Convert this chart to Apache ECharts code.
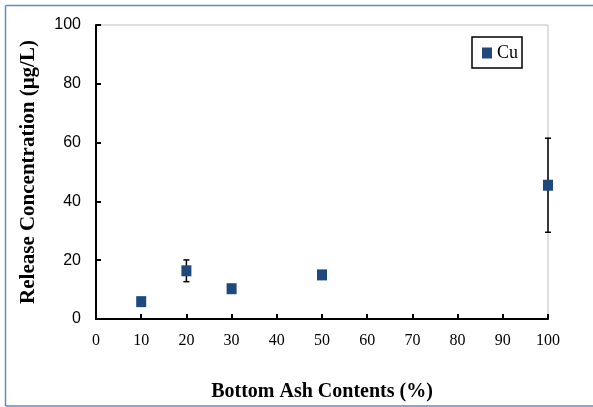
<!DOCTYPE html>
<html><head><meta charset="utf-8">
<script src="https://cdn.jsdelivr.net/npm/echarts@6/dist/echarts.min.js"></script>
<style>html,body{margin:0;padding:0;background:#fff}#c{width:593px;height:407px}</style>
</head><body><div id="c"></div>
<script>
const xValues = [10, 20, 30, 50, 100];
const cuValues = [5.9, 16.4, 10.3, 15.0, 45.5];
const cuErrors = [0.8, 3.7, 0.8, 0.8, 16.0];
const xTicks = [0,10,20,30,40,50,60,70,80,90,100];
const yTicks = [0,20,40,60,80,100];

const chart = echarts.init(document.getElementById('c'));
const scatterData = xValues.map((x,i)=>[x, cuValues[i]]);
const errData = xValues.map((x,i)=>[x, cuValues[i]-cuErrors[i], cuValues[i]+cuErrors[i]]);

chart.setOption({
  animation: false,
  graphic: [
    {type:'line', shape:{x1:5.5,y1:5.5,x2:593,y2:5.5}, style:{stroke:'#5B8BC9', lineWidth:1.5}},
    {type:'line', shape:{x1:5.5,y1:5.5,x2:5.5,y2:406}, style:{stroke:'#5B8BC9', lineWidth:1.5}},
    {type:'line', shape:{x1:5.5,y1:406,x2:593,y2:406}, style:{stroke:'#5B8BC9', lineWidth:1.5}}
  ],
  grid: {left:96, top:25, width:452, height:295, show:true, borderColor:'#BFBFBF', borderWidth:1, backgroundColor:'transparent'},
  legend: {
    data:['Cu'], left:472, top:37, orient:'vertical',
    borderColor:'#000', borderWidth:1.5, padding:[7,4,6,10],
    icon:'rect', itemWidth:10, itemHeight:11, itemGap:4,
    textStyle:{fontFamily:'Liberation Serif', fontSize:18, color:'#000'}
  },
  xAxis: {
    type:'value', min:0, max:100, interval:10,
    name:'Bottom Ash Contents (%)', nameLocation:'middle', nameGap:63,
    nameTextStyle:{fontFamily:'Liberation Serif', fontWeight:'bold', fontSize:20, color:'#000'},
    axisLine:{onZero:false, lineStyle:{color:'#000', width:2}},
    axisTick:{inside:true, length:5, lineStyle:{color:'#000', width:2}},
    axisLabel:{fontFamily:'Liberation Serif', fontSize:16, color:'#000', margin:14},
    splitLine:{show:false}
  },
  yAxis: {
    type:'value', min:0, max:100, interval:20,
    name:'Release Concentration (μg/L)', nameLocation:'middle', nameGap:57,
    nameTextStyle:{fontFamily:'Liberation Serif', fontWeight:'bold', fontSize:21, color:'#000'},
    axisLine:{show:true, lineStyle:{color:'#000', width:2}},
    axisTick:{show:true, inside:true, length:5, lineStyle:{color:'#000', width:2}},
    axisLabel:{fontFamily:'Liberation Sans', fontSize:16, color:'#000', margin:15},
    splitLine:{show:false}
  },
  series: [
    {
      type:'custom', name:'err', silent:true, z:2,
      renderItem:(params, api)=>{
        const x = api.value(0);
        const lo = api.coord([x, api.value(1)]);
        const hi = api.coord([x, api.value(2)]);
        const cw = 3;
        const st = {stroke:'#000', lineWidth:1.5};
        return {type:'group', children:[
          {type:'line', shape:{x1:lo[0], y1:lo[1], x2:hi[0], y2:hi[1]}, style:st},
          {type:'line', shape:{x1:lo[0]-cw, y1:lo[1], x2:lo[0]+cw, y2:lo[1]}, style:st},
          {type:'line', shape:{x1:hi[0]-cw, y1:hi[1], x2:hi[0]+cw, y2:hi[1]}, style:st}
        ]};
      },
      data: errData
    },
    {
      type:'scatter', name:'Cu', symbol:'rect', symbolSize:[10,11], z:5,
      itemStyle:{color:'#1F497D', opacity:1}, data: scatterData
    }
  ]
});
</script></body></html>
